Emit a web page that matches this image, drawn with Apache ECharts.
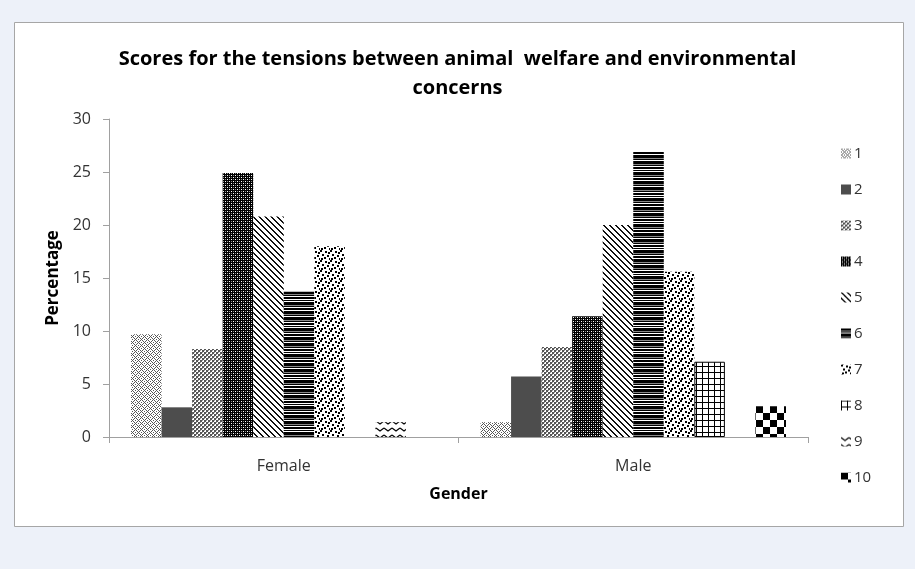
<!DOCTYPE html>
<html>
<head>
<meta charset="utf-8">
<script src="https://cdn.jsdelivr.net/npm/echarts@6/dist/echarts.min.js"></script>
<style>
  html, body { margin: 0; padding: 0; background: #edf1f9; }
  #chart { width: 915px; height: 569px; }
</style>
</head>
<body>
<div id="chart"></div>
<script>
const genders = ['Female', 'Male']
const scores = ['1', '2', '3', '4', '5', '6', '7', '8', '9', '10']
const femaleValues = [9.7, 2.8, 8.3, 24.9, 20.8, 13.7, 18.0, 0, 1.4, 0]
const maleValues = [1.4, 5.7, 8.5, 11.4, 20.0, 26.9, 15.6, 7.1, 0, 2.9]
const yTicks = [0, 5, 10, 15, 20, 25, 30]

const font = '"Open Sans", Lato, sans-serif'

// little canvas tiles used as Excel-like pattern fills
const tile = (w, h, draw) => {
  const c = document.createElement('canvas')
  c.width = w
  c.height = h
  const ctx = c.getContext('2d')
  ctx.fillStyle = '#fff'
  ctx.fillRect(0, 0, w, h)
  draw(ctx)
  return { image: c, repeat: 'repeat' }
}

const dots = (ctx, color, pts, s) => {
  ctx.fillStyle = color
  pts.forEach(([x, y]) => ctx.fillRect(x, y, s || 1, s || 1))
}

const patterns = [
  // 1 grey lattice of small crosses
  tile(6, 6, ctx => dots(ctx, '#555', [[0, 0], [1, 1], [2, 2], [4, 2], [5, 1], [3, 3], [2, 4], [1, 5], [4, 4], [5, 5], [3, 0], [0, 3]])),
  // 2 solid dark grey
  '#4d4d4d',
  // 3 fine grey checker
  tile(4, 4, ctx => {
    dots(ctx, '#555', [[0, 0], [2, 2]], 2)
    dots(ctx, '#999', [[2, 0], [0, 2]], 1)
  }),
  // 4 black with white dots
  tile(4, 4, ctx => {
    ctx.fillStyle = '#000'
    ctx.fillRect(0, 0, 4, 4)
    dots(ctx, '#fff', [[1, 1], [3, 3]])
    dots(ctx, '#888', [[3, 1], [1, 3]])
  }),
  // 5 diagonal lines
  tile(6, 6, ctx => {
    ctx.fillStyle = '#111'
    for (let i = 0; i < 6; i++) {
      ctx.fillRect(i, i, 1, 1)
      ctx.fillRect((i + 1) % 6, i, 1, 1)
    }
  }),
  // 6 horizontal lines of mixed weight
  tile(4, 26, ctx => {
    ctx.fillStyle = '#000'
    ;[[0, 2], [3, 1], [5, 3], [9, 1], [11, 2], [14, 1], [16, 3], [20, 1], [22, 2], [25, 1]].forEach(([y, h]) => ctx.fillRect(0, y, 4, h))
    ctx.fillStyle = '#888'
    ;[[2, 1], [8, 1], [19, 1]].forEach(([y, h]) => ctx.fillRect(0, y, 4, h))
  }),
  // 7 confetti dots
  tile(10, 10, ctx => dots(ctx, '#000', [[0, 0], [5, 1], [2, 4], [7, 5], [4, 7], [9, 8], [1, 8], [8, 2]], 2)),
  // 8 grid
  tile(6, 6, ctx => {
    ctx.fillStyle = '#000'
    ctx.fillRect(0, 0, 6, 1)
    ctx.fillRect(0, 0, 1, 6)
  }),
  // 9 zigzag
  tile(8, 7, ctx => {
    ctx.strokeStyle = '#000'
    ctx.lineWidth = 1.2
    ctx.beginPath()
    ctx.moveTo(0, 1)
    ctx.lineTo(4, 4)
    ctx.lineTo(8, 1)
    ctx.stroke()
  }),
  // 10 big checker
  tile(14, 14, ctx => {
    ctx.fillStyle = '#000'
    ctx.fillRect(0, 0, 7, 7)
    ctx.fillRect(7, 7, 7, 7)
  })
]

const series = scores.map((name, i) => ({
  name,
  type: 'bar',
  barGap: 0,
  barCategoryGap: '12.6%',
  data: [femaleValues[i], maleValues[i]].map(v => ({
    value: v,
    itemStyle: { borderWidth: i === 7 && v > 0 ? 1 : 0 }
  })),
  itemStyle: { color: patterns[i], borderColor: '#000' }
}))

const chart = echarts.init(document.getElementById('chart'))
chart.setOption({
  backgroundColor: '#edf1f9',
  animation: false,
  graphic: [{
    type: 'rect',
    z: -10,
    shape: { x: 14.5, y: 22.5, width: 889, height: 504 },
    style: { fill: '#fff', stroke: '#a6a6a6', lineWidth: 1 }
  }],
  title: {
    text: 'Scores for the tensions between animal  welfare and environmental\nconcerns',
    left: 'center',
    top: 40,
    textStyle: { fontFamily: font, fontSize: 20, fontWeight: 'bold', color: '#000', lineHeight: 29 }
  },
  legend: {
    orient: 'vertical',
    left: 836,
    top: 140,
    itemWidth: 10,
    itemHeight: 10,
    itemGap: 19,
    itemStyle: { borderWidth: 0 },
    icon: 'rect',
    textStyle: { fontFamily: font, fontSize: 15, color: '#333', lineHeight: 17, padding: [0, 0, 0, -2] },
    data: scores
  },
  grid: { left: 109, right: 107, top: 119, bottom: 132, containLabel: false },
  xAxis: {
    type: 'category',
    data: genders,
    name: 'Gender',
    nameLocation: 'middle',
    nameGap: 49,
    nameTextStyle: { fontFamily: font, fontSize: 16, fontWeight: 'bold', color: '#000' },
    axisLine: { lineStyle: { color: '#a0a0a0' } },
    axisTick: { show: true, length: 6, lineStyle: { color: '#a0a0a0' } },
    axisLabel: { fontFamily: font, fontSize: 16, color: '#333', margin: 21 }
  },
  yAxis: {
    type: 'value',
    min: yTicks[0],
    max: yTicks[yTicks.length - 1],
    interval: yTicks[1] - yTicks[0],
    name: 'Percentage',
    nameLocation: 'middle',
    nameGap: 46,
    nameTextStyle: { fontFamily: font, fontSize: 17, fontWeight: 'bold', color: '#000' },
    axisLine: { show: true, lineStyle: { color: '#a0a0a0' } },
    axisTick: { show: true, length: 6, lineStyle: { color: '#a0a0a0' } },
    axisLabel: { fontFamily: font, fontSize: 16, color: '#333', margin: 18 },
    splitLine: { show: false }
  },
  series
})
</script>
</body>
</html>
